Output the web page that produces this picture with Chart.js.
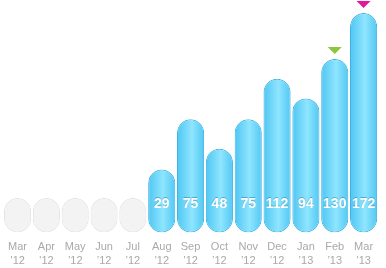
<!DOCTYPE html>
<html lang="en">
<head>
<meta charset="UTF-8">
<title>Monthly counts</title>
<script src="https://cdn.jsdelivr.net/npm/chart.js"></script>
<style>
    html, body { margin: 0; padding: 0; background: #fff; }
    .wrap { width: 386px; height: 268px; }
</style>
</head>
<body>
<div class="wrap"><canvas id="chart" width="386" height="268"></canvas></div>
<script>
const months = ['Mar', 'Apr', 'May', 'Jun', 'Jul', 'Aug', 'Sep', 'Oct', 'Nov', 'Dec', 'Jan', 'Feb', 'Mar'];
const years = ['’12', '’12', '’12', '’12', '’12', '’12', '’12', '’12', '’12', '’12', '’13', '’13', '’13'];
const values = [null, null, null, null, null, 29, 75, 48, 75, 112, 94, 130, 172];
const markers = [null, null, null, null, null, null, null, null, null, null, null, '#8cc63f', '#e3179d'];

const BASE = -28.5;      // pills start below zero so small values still look round
const EMPTY_TOP = 3;
const BAR_PCT = 0.94;

const labels = months.map((m, i) => [m, years[i]]);

function barFill(ctx) {
    const chart = ctx.chart;
    const i = ctx.dataIndex;
    if (values[i] === null) return '#f3f3f3';
    const xs = chart.scales.x;
    if (!xs || !isFinite(xs.width) || xs.width <= 0) return '#5fd2fb';
    const cx = xs.getPixelForValue(i);
    const half = xs.width / labels.length * BAR_PCT / 2;
    if (!isFinite(cx)) return '#5fd2fb';
    const g = chart.ctx.createLinearGradient(cx - half, 0, cx + half, 0);
    g.addColorStop(0, '#4fc6f2');
    g.addColorStop(0.55, '#8fe5ff');
    g.addColorStop(1, '#52c8f3');
    return g;
}

const overlay = {
    id: 'overlay',
    afterDatasetsDraw(chart) {
        const ctx = chart.ctx;
        const meta = chart.getDatasetMeta(0);
        ctx.save();
        meta.data.forEach((bar, i) => {
            if (values[i] !== null) {
                ctx.font = 'bold 14px "Liberation Sans", Arial, sans-serif';
                ctx.textAlign = 'center';
                ctx.textBaseline = 'middle';
                ctx.fillStyle = 'rgba(0,80,120,0.35)';
                ctx.fillText(values[i], bar.x, bar.base - 28 - 1);
                ctx.fillStyle = '#ffffff';
                ctx.fillText(values[i], bar.x, bar.base - 28);
            }
            if (markers[i]) {
                const top = bar.y - 5;
                ctx.fillStyle = markers[i];
                ctx.beginPath();
                ctx.moveTo(bar.x - 7, top - 7);
                ctx.lineTo(bar.x + 7, top - 7);
                ctx.lineTo(bar.x, top);
                ctx.closePath();
                ctx.fill();
            }
        });
        ctx.restore();
    }
};

new Chart(document.getElementById('chart'), {
    type: 'bar',
    data: {
        labels: labels,
        datasets: [{
            data: values.map(v => [BASE, v === null ? EMPTY_TOP : v]),
            backgroundColor: barFill,
            borderColor: values.map(v => v === null ? '#e2e2e2' : '#3fb3e0'),
            borderWidth: 1,
            borderSkipped: false,
            borderRadius: 14,
            barPercentage: BAR_PCT,
            categoryPercentage: 1.0
        }]
    },
    options: {
        responsive: false,
        animation: false,
        layout: { padding: { left: 2, right: 8, top: 13, bottom: -8 } },
        plugins: { legend: { display: false }, tooltip: { enabled: false } },
        scales: {
            x: {
                grid: { display: false, drawTicks: false },
                border: { display: false },
                ticks: {
                    color: '#a9a9a9',
                    padding: 8,
                    maxRotation: 0,
                    autoSkip: false,
                    font: { family: '"Liberation Sans", Arial, sans-serif', size: 11, lineHeight: 1.25 }
                }
            },
            y: {
                display: false,
                min: BASE,
                max: 172
            }
        }
    },
    plugins: [overlay]
});
</script>
</body>
</html>
